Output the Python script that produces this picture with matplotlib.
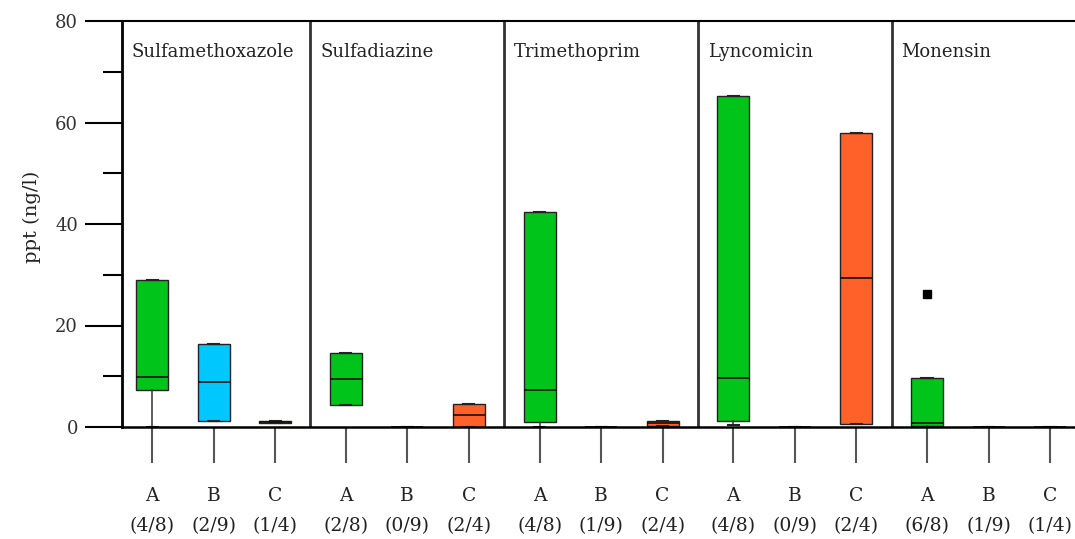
import numpy as np
import matplotlib.pyplot as plt

plt.rcParams['font.family'] = ['DejaVu Serif']

drugs = ['Sulfamethoxazole', 'Sulfadiazine', 'Trimethoprim', 'Lyncomicin', 'Monensin']
groups = ['A', 'B', 'C']
detected = [['4/8', '2/9', '1/4'],
            ['2/8', '0/9', '2/4'],
            ['4/8', '1/9', '2/4'],
            ['4/8', '0/9', '2/4'],
            ['6/8', '1/9', '1/4']]

# box statistics per drug, per group (A, B, C), in ppt (ng/l)
whislo = [[0.0, 1.2, 0.8], [4.3, 0.0, 0.0], [0.0, 0.0, 0.2], [0.3, 0.0, 0.5], [0.0, 0.0, 0.0]]
q1 = [[7.3, 1.2, 0.8], [4.3, 0.0, 0.0], [1.0, 0.0, 0.2], [1.2, 0.0, 0.5], [0.2, 0.0, 0.0]]
med = [[9.9, 8.8, 1.0], [9.4, 0.0, 2.4], [7.2, 0.0, 0.7], [9.6, 0.0, 29.3], [0.8, 0.0, 0.0]]
q3 = [[28.9, 16.3, 1.1], [14.5, 0.0, 4.5], [42.4, 0.0, 1.2], [65.3, 0.0, 58.0], [9.6, 0.0, 0.0]]
fliers = [[[], [], []], [[], [], []], [[], [], []], [[], [], []], [[26.3], [], []]]

colors = {'A': '#00c41a', 'B': '#00c8ff', 'C': '#ff6128'}

panel_step = 3.15

fig = plt.figure(figsize=(10.75, 5.39), dpi=100)
ax = fig.add_axes([122 / 1075, 1 - 427 / 539, (1090 - 122) / 1075, 406 / 539])

stats = []
positions = []
labels = []
facecols = []
for p in range(len(drugs)):
    for g in range(3):
        stats.append(dict(whislo=whislo[p][g], q1=q1[p][g], med=med[p][g],
                          q3=q3[p][g], whishi=q3[p][g], fliers=fliers[p][g]))
        positions.append(p * panel_step + g)
        labels.append('%s\n(%s)' % (groups[g], detected[p][g]))
        facecols.append(colors[groups[g]])

bp = ax.bxp(stats, positions=positions, widths=0.52, capwidths=0.18,
            patch_artist=True, showfliers=True,
            boxprops=dict(edgecolor='#222222', linewidth=1.0),
            medianprops=dict(color='#111111', linewidth=1.2),
            whiskerprops=dict(color='#444444', linewidth=1.2),
            capprops=dict(color='#222222', linewidth=1.5),
            flierprops=dict(marker='s', markersize=6, markerfacecolor='black',
                            markeredgecolor='black'))
for patch, c in zip(bp['boxes'], facecols):
    patch.set_facecolor(c)

# panel separators and titles
for p in range(len(drugs)):
    left = -0.49 if p == 0 else (p - 1) * panel_step + 2 + (panel_step - 2) / 2
    if p > 0:
        ax.axvline(left, color='#333333', linewidth=2.0, zorder=1)
    ax.text(left + 0.16, 73.9, drugs[p], fontsize=13, va='center', ha='left', color='#222222')

ax.set_xlim(-0.49, 15.25)
ax.set_ylim(0, 80)
ax.set_xticks(positions)
ax.set_xticklabels(labels, fontsize=13.5, linespacing=1.85, color='#222222')
ax.set_yticks([0, 20, 40, 60, 80])
ax.set_yticks([10, 30, 50, 70], minor=True)
ax.tick_params(axis='y', which='major', length=26.6, width=1.5, pad=5, labelsize=13,
               labelcolor='#333333')
ax.tick_params(axis='y', which='minor', length=13.7, width=1.5)
ax.tick_params(axis='x', length=26, width=1.5, color='#555555', pad=17)

ax.set_ylabel('ppt (ng/l)', fontsize=14, color='#222222')
ax.yaxis.set_label_coords(-0.084, 0.517)

ax.spines['right'].set_visible(False)
ax.spines['left'].set_linewidth(2.0)
ax.spines['top'].set_linewidth(1.5)
ax.spines['bottom'].set_linewidth(1.8)

fig.savefig('out.png', dpi=100)
